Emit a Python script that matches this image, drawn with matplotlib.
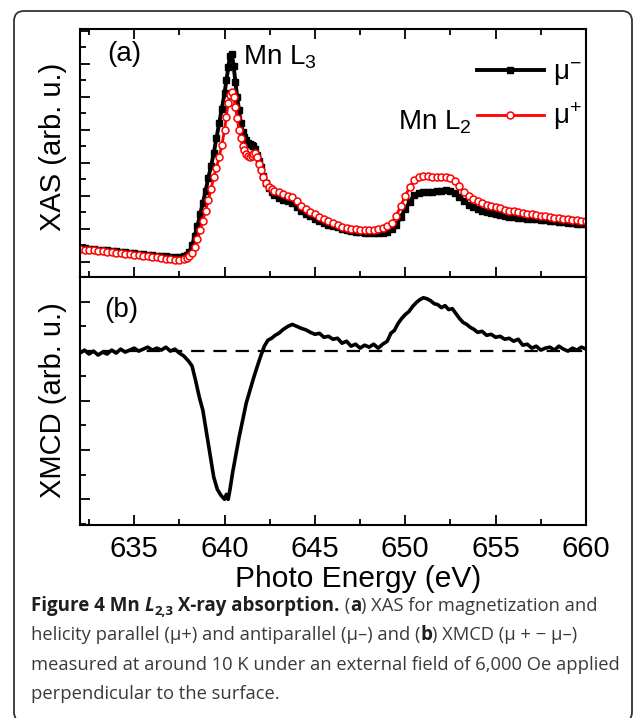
import numpy as np
import matplotlib
matplotlib.use('Agg')
import matplotlib.pyplot as plt
from matplotlib.patches import FancyBboxPatch
from matplotlib.transforms import IdentityTransform
from matplotlib.ticker import MultipleLocator

# energia (eV) comum as duas curvas de XAS
e_xas = [632.00, 632.25, 632.50, 632.75, 633.00, 633.25, 633.50, 633.75, 634.00, 634.25,
         634.50, 634.75, 635.00, 635.25, 635.50, 635.75, 636.00, 636.25, 636.50, 636.75,
         637.00, 637.25, 637.50, 637.75, 637.90, 638.05, 638.20, 638.35, 638.50, 638.65,
         638.80, 638.95, 639.10, 639.25, 639.40, 639.55, 639.70, 639.85, 640.00, 640.10,
         640.20, 640.30, 640.40, 640.50, 640.60, 640.70, 640.80, 640.90, 641.00, 641.10,
         641.20, 641.30, 641.40, 641.50, 641.60, 641.70, 641.80, 641.90, 642.00, 642.15,
         642.30, 642.45, 642.60, 642.75, 643.00, 643.25, 643.50, 643.75, 644.00, 644.25,
         644.50, 644.75, 645.00, 645.25, 645.50, 645.75, 646.00, 646.25, 646.50, 646.75,
         647.00, 647.25, 647.50, 647.75, 648.00, 648.25, 648.50, 648.75, 649.00, 649.25,
         649.50, 649.75, 650.00, 650.25, 650.50, 650.75, 651.00, 651.25, 651.50, 651.75,
         652.00, 652.25, 652.50, 652.75, 653.00, 653.25, 653.50, 653.75, 654.00, 654.25,
         654.50, 654.75, 655.00, 655.25, 655.50, 655.75, 656.00, 656.25, 656.50, 656.75,
         657.00, 657.25, 657.50, 657.75, 658.00, 658.25, 658.50, 658.75, 659.00, 659.25,
         659.50, 659.75, 660.00]

# mu- (preto)
xas_menos = [0.42, 0.41, 0.39, 0.38, 0.37, 0.36, 0.35, 0.33, 0.32, 0.31,
             0.30, 0.28, 0.27, 0.25, 0.24, 0.22, 0.21, 0.19, 0.18, 0.17,
             0.16, 0.16, 0.16, 0.18, 0.22, 0.30, 0.50, 0.80, 1.10, 1.45,
             1.80, 2.15, 2.55, 2.90, 3.30, 3.75, 4.21, 4.65, 5.12, 5.50,
             5.90, 6.25, 6.30, 5.95, 5.45, 5.00, 4.60, 4.21, 3.95, 3.80,
             3.70, 3.62, 3.58, 3.55, 3.50, 3.42, 3.25, 3.05, 2.88, 2.62,
             2.39, 2.24, 2.12, 2.04, 1.95, 1.89, 1.84, 1.79, 1.67, 1.55,
             1.46, 1.38, 1.30, 1.24, 1.18, 1.13, 1.09, 1.05, 1.00, 0.97,
             0.94, 0.92, 0.90, 0.88, 0.87, 0.87, 0.88, 0.89, 0.92, 1.00,
             1.12, 1.35, 1.60, 1.83, 2.02, 2.09, 2.11, 2.12, 2.13, 2.14,
             2.16, 2.18, 2.16, 2.08, 1.98, 1.86, 1.74, 1.66, 1.60, 1.55,
             1.51, 1.48, 1.45, 1.42, 1.40, 1.37, 1.35, 1.34, 1.32, 1.31,
             1.30, 1.29, 1.27, 1.26, 1.24, 1.23, 1.22, 1.21, 1.19, 1.18,
             1.16, 1.15, 1.14]

# mu+ (vermelho)
xas_mais = [0.38, 0.37, 0.36, 0.35, 0.33, 0.32, 0.31, 0.29, 0.28, 0.26,
            0.25, 0.23, 0.22, 0.20, 0.18, 0.17, 0.15, 0.14, 0.12, 0.10,
            0.08, 0.07, 0.07, 0.09, 0.12, 0.17, 0.26, 0.45, 0.70, 0.97,
            1.25, 1.55, 1.87, 2.20, 2.58, 2.85, 3.18, 3.55, 4.00, 4.40,
            4.82, 5.05, 5.15, 5.00, 4.70, 4.35, 4.00, 3.75, 3.52, 3.39,
            3.26, 3.20, 3.18, 3.22, 3.28, 3.30, 3.18, 2.98, 2.79, 2.57,
            2.39, 2.27, 2.20, 2.16, 2.12, 2.06, 2.00, 1.97, 1.86, 1.71,
            1.60, 1.52, 1.45, 1.37, 1.30, 1.23, 1.17, 1.12, 1.07, 1.03,
            1.01, 0.99, 0.98, 0.97, 0.97, 0.98, 1.01, 1.04, 1.09, 1.18,
            1.40, 1.70, 2.00, 2.28, 2.48, 2.58, 2.62, 2.61, 2.59, 2.58,
            2.59, 2.59, 2.55, 2.44, 2.30, 2.12, 2.00, 1.92, 1.84, 1.78,
            1.74, 1.70, 1.67, 1.63, 1.59, 1.56, 1.54, 1.51, 1.48, 1.46,
            1.44, 1.42, 1.40, 1.38, 1.36, 1.34, 1.32, 1.30, 1.29, 1.27,
            1.26, 1.24, 1.23]

# XMCD
e_xmcd = [632.00, 632.25, 632.50, 632.75, 633.00, 633.25, 633.50, 633.75, 634.00, 634.25,
          634.50, 634.75, 635.00, 635.25, 635.50, 635.75, 636.00, 636.25, 636.50, 636.75,
          637.00, 637.25, 637.50, 637.75, 638.00, 638.20, 638.40, 638.60, 638.80, 639.00,
          639.20, 639.40, 639.60, 639.80, 640.00, 640.10, 640.20, 640.30, 640.45, 640.60,
          640.80, 641.00, 641.20, 641.40, 641.60, 641.80, 642.00, 642.20, 642.40, 642.60,
          642.80, 643.00, 643.25, 643.50, 643.75, 644.00, 644.25, 644.50, 644.75, 645.00,
          645.25, 645.50, 645.75, 646.00, 646.25, 646.50, 646.75, 647.00, 647.25, 647.50,
          647.75, 648.00, 648.25, 648.50, 648.75, 649.00, 649.20, 649.40, 649.60, 649.80,
          650.00, 650.20, 650.40, 650.60, 650.80, 651.00, 651.20, 651.40, 651.60, 651.80,
          652.00, 652.20, 652.40, 652.60, 652.80, 653.00, 653.20, 653.40, 653.60, 653.80,
          654.00, 654.25, 654.50, 654.75, 655.00, 655.25, 655.50, 655.75, 656.00, 656.25,
          656.50, 656.75, 657.00, 657.25, 657.50, 657.75, 658.00, 658.25, 658.50, 658.75,
          659.00, 659.25, 659.50, 659.75, 660.00]
xmcd = [-0.04, 0.02, -0.06, 0.00, -0.08, -0.02, -0.06, 0.02, -0.04, 0.04,
        -0.02, 0.02, 0.06, 0.00, 0.04, 0.08, 0.02, 0.06, 0.02, 0.08,
        0.00, 0.04, -0.04, -0.10, -0.20, -0.30, -0.60, -0.93, -1.20, -1.65,
        -2.10, -2.55, -2.80, -2.92, -3.00, -2.90, -3.00, -2.80, -2.45, -2.15,
        -1.75, -1.40, -1.05, -0.80, -0.55, -0.32, -0.10, 0.10, 0.22, 0.26,
        0.32, 0.36, 0.44, 0.50, 0.54, 0.50, 0.46, 0.43, 0.38, 0.34,
        0.36, 0.28, 0.30, 0.24, 0.26, 0.16, 0.20, 0.10, 0.14, 0.06,
        0.12, 0.08, 0.14, 0.06, 0.14, 0.20, 0.36, 0.42, 0.56, 0.66,
        0.74, 0.80, 0.90, 0.98, 1.04, 1.08, 1.06, 1.02, 0.96, 0.94,
        0.88, 0.92, 0.84, 0.86, 0.76, 0.66, 0.58, 0.54, 0.48, 0.44,
        0.38, 0.40, 0.32, 0.34, 0.28, 0.30, 0.24, 0.26, 0.20, 0.24,
        0.12, 0.14, 0.06, 0.10, 0.02, 0.06, 0.08, 0.02, 0.10, 0.04,
        0.00, 0.06, 0.02, 0.08, 0.04]

plt.rcParams['font.family'] = ['Liberation Sans', 'DejaVu Sans']
plt.rcParams['mathtext.fontset'] = 'custom'
plt.rcParams['mathtext.rm'] = 'Liberation Sans'
plt.rcParams['mathtext.it'] = 'Liberation Sans:italic'

W, H = 636, 718
fig = plt.figure(figsize=(W / 100, H / 100), dpi=100)

# moldura arredondada
moldura = FancyBboxPatch((14, -4), 618, 711, boxstyle='round,pad=0,rounding_size=10',
                         transform=IdentityTransform(), fill=False, lw=1.3, ec='#333333')
fig.patches.append(moldura)

ax1 = fig.add_axes([80 / W, 1 - 277 / H, 506 / W, 248 / H])
ax2 = fig.add_axes([80 / W, 1 - 525 / H, 506 / W, 248 / H])

ax1.plot(e_xas, xas_menos, '-s', color='black', ms=4, lw=2.8, label='μ$^{-}$')
ax1.plot(e_xas, xas_mais, '-o', color='red', mfc='white', mec='red', ms=5, mew=1.1,
         lw=2, label='μ$^{+}$')

ax2.plot(e_xmcd, xmcd, '-', color='black', lw=2.6)
ax2.axhline(0, color='black', lw=1.6, dashes=(6, 4))

for ax in (ax1, ax2):
    ax.set_xlim(632, 660)
    ax.xaxis.set_major_locator(MultipleLocator(5))
    ax.xaxis.set_minor_locator(MultipleLocator(2.5))
    ax.yaxis.set_major_locator(MultipleLocator(1))
    ax.yaxis.set_minor_locator(MultipleLocator(0.5))
    for s in ax.spines.values():
        s.set_linewidth(1.5)
    ax.tick_params(which='both', direction='in', width=1.3, labelleft=False, right=False)
    ax.tick_params(which='major', length=7)
    ax.tick_params(which='minor', length=4)

ax1.set_ylim(-0.455, 7.06)
ax2.set_ylim(-3.52, 1.50)
ax1.tick_params(which='both', top=True, labelbottom=False)
ax2.tick_params(which='both', top=False, labelsize=21, pad=7)

ax1.set_ylabel('XAS (arb. u.)', fontsize=21)
ax2.set_ylabel('XMCD (arb. u.)', fontsize=21)
ax1.yaxis.set_label_coords(-0.025, 0.524)
ax2.yaxis.set_label_coords(-0.025, 0.504)
ax2.set_xlabel('Photo Energy (eV)', fontsize=21.5)
ax2.xaxis.set_label_coords(0.55, -0.16)

ax1.text(0.053, 0.899, '(a)', transform=ax1.transAxes, fontsize=20, va='center')
ax2.text(0.047, 0.867, '(b)', transform=ax2.transAxes, fontsize=20, va='center')
ax1.text(0.322, 0.887, 'Mn L$_3$', transform=ax1.transAxes, fontsize=20, va='center')
ax1.text(0.628, 0.625, 'Mn L$_2$', transform=ax1.transAxes, fontsize=20, va='center')

ax1.legend(loc='upper right', bbox_to_anchor=(1.036, 0.964), frameon=False, fontsize=20,
           handlelength=2.4, handletextpad=0.35, labelspacing=0.45, borderaxespad=0.4,
           numpoints=1)

# legenda da figura (texto com trechos em negrito)
renderer = fig.canvas.get_renderer()


def largura(s, **kw):
    t1 = fig.text(0, 0, '|' + s + '|', transform=IdentityTransform(), **kw)
    t2 = fig.text(0, 0, '||', transform=IdentityTransform(), **kw)
    w = t1.get_window_extent(renderer).width - t2.get_window_extent(renderer).width
    t1.remove()
    t2.remove()
    return w


fam = ['Open Sans', 'DejaVu Sans']
base = dict(family=fam, fontsize=13.2, color='#3a3a3a')
negr = dict(family=fam, fontsize=13.5, color='#1e1e1e', weight='bold')
sub = dict(family=fam, fontsize=9.5, color='#1e1e1e', weight='bold')

linhas = [
    [('Figure 4 Mn ', negr, 0), ('L', dict(negr, style='italic'), 0), ('2,3', sub, -4),
     (' X-ray absorption.', negr, 0), (' (', base, 0), ('a', negr, 0),
     (') XAS for magnetization and', base, 0)],
    [('helicity parallel (µ+) and antiparallel (µ–) and (', base, 0), ('b', negr, 0),
     (') XMCD (µ + − µ–)', base, 0)],
    [('measured at around 10 K under an external field of 6,000 Oe applied', base, 0)],
    [('perpendicular to the surface.', base, 0)],
]

y0 = H - 611
for i, linha in enumerate(linhas):
    x = 31
    y = y0 - i * 29.3
    for s, kw, dy in linha:
        fig.text(x, y + dy, s, transform=IdentityTransform(), va='baseline', **kw)
        x += largura(s, **kw)

fig.savefig('out.png', dpi=100)
